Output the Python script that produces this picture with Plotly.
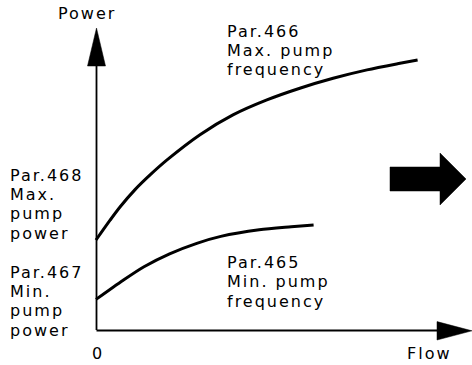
import plotly.graph_objects as go

# ---- data (Flow in % of axis, Power in % of axis) ----
flow_max_freq = [0, 4.4, 7.5, 12.2, 16.9, 22.2, 32.5, 42.8, 53.4, 63.7, 74.1, 84.7, 95, 100.5]
power_max_freq = [30, 36.6, 41.0, 46.8, 51.7, 56.7, 65.1, 71.7, 76.7, 80.6, 83.9, 86.7, 88.9, 90]

flow_min_freq = [0, 8.5, 15, 23, 31.5, 39, 51, 61, 68]
power_min_freq = [10.2, 16.6, 21.1, 25.4, 28.9, 31.2, 33.4, 34.4, 35]

left_labels_top = ["Par.468", "Max.", "pump", "power"]
left_labels_bottom = ["Par.467", "Min.", "pump", "power"]
curve_label_max = ["Par.466", "Max. pump", "frequency"]
curve_label_min = ["Par.465", "Min. pump", "frequency"]
x_title = "Flow"
y_title = "Power"
origin_label = "0"

# ---- geometry ----
W, H = 472, 365
X0_PX, XS = 96.0, 3.2      # flow 0 at px 96, 3.2 px per unit
Y0_PX, YS = 330.0, 3.0     # power 0 at px 330, 3 px per unit
x_range = [(0 - X0_PX) / XS, (W - X0_PX) / XS]
y_range = [(Y0_PX - H) / YS, (Y0_PX - 0) / YS]


def px2x(px):
    return (px - X0_PX) / XS


def py2y(py):
    return (Y0_PX - py) / YS


FONT = dict(family="DejaVu Sans, Verdana, sans-serif", size=16, color="black")

fig = go.Figure()
fig.add_trace(go.Scatter(x=flow_max_freq, y=power_max_freq, mode="lines",
                         line=dict(color="black", width=3, shape="spline", smoothing=0.8),
                         hoverinfo="skip"))
fig.add_trace(go.Scatter(x=flow_min_freq, y=power_min_freq, mode="lines",
                         line=dict(color="black", width=3, shape="spline", smoothing=0.8),
                         hoverinfo="skip"))

shapes = []
# axes lines
ax_x = px2x(96.5)
shapes.append(dict(type="line", xref="x", yref="y", x0=ax_x, y0=0, x1=ax_x, y1=py2y(60),
                   line=dict(color="black", width=1.8)))
shapes.append(dict(type="line", xref="x", yref="y", x0=ax_x, y0=py2y(330.5), x1=px2x(440), y1=py2y(330.5),
                   line=dict(color="black", width=1.8)))
# arrow heads
tip_y, base_y, hw = py2y(28), py2y(66), 9 / XS
shapes.append(dict(type="path", xref="x", yref="y",
                   path=f"M {ax_x} {tip_y} L {ax_x - hw} {base_y} L {ax_x + hw} {base_y} Z",
                   fillcolor="black", line=dict(color="black", width=0.5)))
tip_x, base_x, hh, cy = px2x(472), px2x(437), 9.2 / YS, py2y(330.8)
shapes.append(dict(type="path", xref="x", yref="y",
                   path=f"M {tip_x} {cy} L {base_x} {cy + hh} L {base_x} {cy - hh} Z",
                   fillcolor="black", line=dict(color="black", width=0.5)))
# big block arrow
bx0, bx1, bx2 = px2x(390), px2x(440), px2x(466)
by_t, by_b = py2y(167), py2y(191)
bh_t, bh_b, b_mid = py2y(153), py2y(205), py2y(179)
shapes.append(dict(type="path", xref="x", yref="y",
                   path=(f"M {bx0} {by_t} L {bx1} {by_t} L {bx1} {bh_t} L {bx2} {b_mid} "
                         f"L {bx1} {bh_b} L {bx1} {by_b} L {bx0} {by_b} Z"),
                   fillcolor="black", line=dict(color="black", width=0.5)))

annotations = []


def add_text(text, left_px, baseline_px, anchor="left"):
    annotations.append(dict(text=text, x=px2x(left_px), y=py2y(baseline_px - 5.55),
                            xref="x", yref="y", xanchor=anchor, yanchor="middle",
                            showarrow=False, font=FONT, borderpad=0))


add_text(y_title, 57, 19.3)
for i, t in enumerate(left_labels_top):
    add_text(t, 9, 180.7 + 19.3 * i)
for i, t in enumerate(left_labels_bottom):
    add_text(t, 9, 277.7 + 19.3 * i)
for i, t in enumerate(curve_label_max):
    add_text(t, 226, 36.7 + 19 * i)
for i, t in enumerate(curve_label_min):
    add_text(t, 226, 268.3 + 19.2 * i)
add_text(x_title, 406, 359.3)
add_text(origin_label, 98.3, 359.3, anchor="center")

fig.update_layout(
    width=W, height=H,
    margin=dict(l=0, r=0, t=0, b=0),
    paper_bgcolor="white", plot_bgcolor="white",
    showlegend=False,
    xaxis=dict(range=x_range, visible=False, fixedrange=True),
    yaxis=dict(range=y_range, visible=False, fixedrange=True),
    shapes=shapes,
    annotations=annotations,
    font=FONT,
)

post = """
document.body.style.margin='0';document.body.style.padding='0';
document.documentElement.style.overflow='hidden';
document.querySelectorAll('.annotation-text').forEach(function(t){
  var b0 = t.getBBox();
  t.style.letterSpacing='2px';
  var b1 = t.getBBox();
  if (t.textContent !== '0') {
    var dx = b0.x - b1.x;
    var tr = t.getAttribute('transform') || '';
    t.setAttribute('transform', 'translate(' + dx + ',0) ' + tr);
  }
});
"""
fig.write_html("out.html", post_script=post, config={"displayModeBar": False})
